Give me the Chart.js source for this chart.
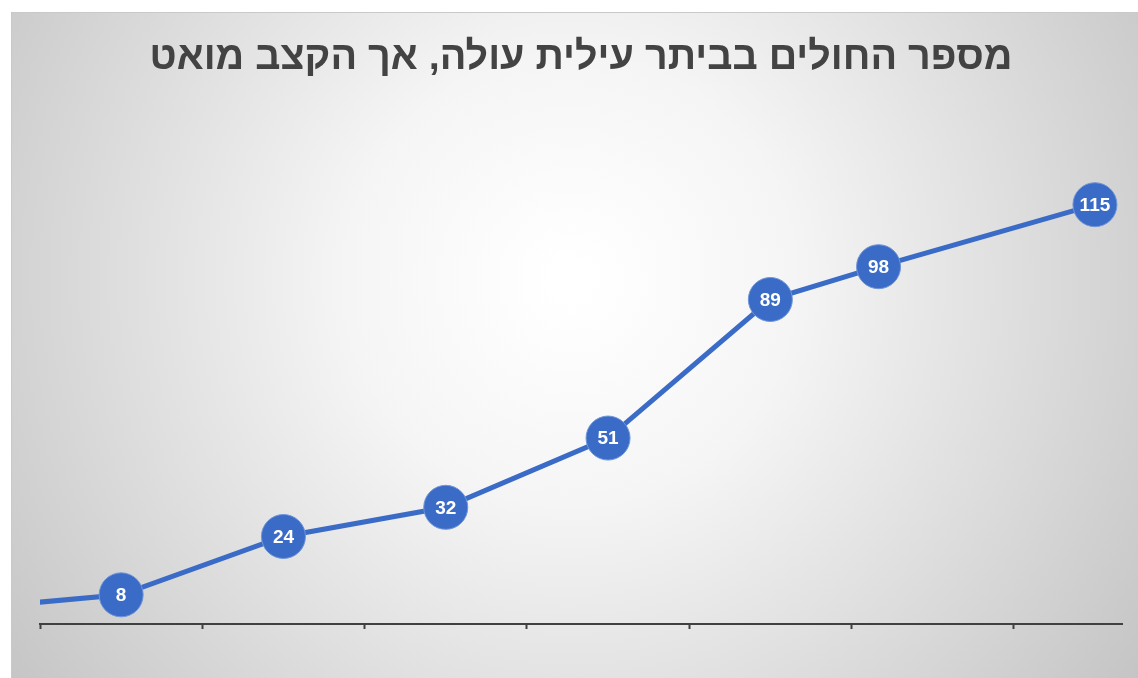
<!DOCTYPE html>
<html>
<head>
<meta charset="utf-8">
<script src="https://cdn.jsdelivr.net/npm/chart.js@4.4.1/dist/chart.umd.min.js"></script>
<style>
  html, body { margin: 0; padding: 0; background: #fff; }
  #wrap { width: 1138px; height: 678px; }
</style>
</head>
<body>
<div id="wrap"><canvas id="c" width="1138" height="678"></canvas></div>
<script>
// ימים מתחילת המדידה (ציר תאריכים), הנקודה הראשונה נחתכת משמאל
const days = [-3, 0, 3, 6, 9, 12, 14, 18];
const patients = [4, 8, 24, 32, 51, 89, 98, 115];
const tickDays = [-1.5, 1.5, 4.5, 7.5, 10.5, 13.5, 16.5];
const title = 'מספר החולים בביתר עילית עולה, אך הקצב מואט';

const blue = '#3a6bc7';

const background = {
    id: 'background',
    beforeDraw(chart) {
        const { ctx, width, height } = chart;
        ctx.save();
        ctx.fillStyle = '#fff';
        ctx.fillRect(0, 0, width, height);
        const g = ctx.createRadialGradient(570, 280, 20, 570, 280, 700);
        g.addColorStop(0, '#ffffff');
        g.addColorStop(0.3, '#f5f5f5');
        g.addColorStop(1, '#c4c4c4');
        ctx.fillStyle = g;
        ctx.fillRect(11, 12, width - 11, height - 12);
        ctx.strokeStyle = '#c9c9c9';
        ctx.lineWidth = 1;
        ctx.strokeRect(11.5, 12.5, width, height);
        ctx.restore();
    }
};

const pointLabels = {
    id: 'pointLabels',
    afterDatasetsDraw(chart) {
        const { ctx, chartArea } = chart;
        const meta = chart.getDatasetMeta(0);
        ctx.save();
        ctx.fillStyle = '#fff';
        ctx.font = 'bold 19px "Liberation Sans", "DejaVu Sans", sans-serif';
        ctx.textAlign = 'center';
        ctx.textBaseline = 'middle';
        meta.data.forEach((pt, i) => {
            if (pt.x < chartArea.left) return;
            ctx.fillText(String(patients[i]), pt.x, pt.y + 1);
        });
        ctx.restore();
    }
};

new Chart(document.getElementById('c'), {
    type: 'line',
    data: {
        datasets: [{
            data: days.map((d, i) => ({ x: d, y: patients[i] })),
            borderColor: blue,
            borderWidth: 5,
            backgroundColor: blue,
            pointRadius: 22,
            pointBorderWidth: 1,
            pointBorderColor: '#7095d8',
            pointBackgroundColor: blue,
            tension: 0,
            clip: { left: 0, top: 30, right: 30, bottom: 30 }
        }]
    },
    options: {
        responsive: false,
        animation: false,
        devicePixelRatio: 1,
        layout: { autoPadding: false, padding: { left: 40, right: 16, top: 0, bottom: 49 } },
        plugins: {
            legend: { display: false },
            tooltip: { enabled: false },
            title: {
                display: true,
                text: title,
                color: '#434343',
                font: { family: '"Liberation Sans", "DejaVu Sans", sans-serif', size: 39.5, weight: 'bold', lineHeight: 1.2 },
                padding: { top: 34, bottom: 68.6 }
            }
        },
        scales: {
            x: {
                type: 'linear',
                min: -1.5,
                max: 18.5,
                afterBuildTicks: axis => { axis.ticks = tickDays.map(v => ({ value: v })); },
                ticks: { display: false },
                grid: {
                    drawOnChartArea: false,
                    drawTicks: true,
                    tickLength: 5,
                    tickWidth: 2,
                    tickColor: '#404040'
                },
                border: { display: true, color: '#404040', width: 2 }
            },
            y: {
                display: false,
                min: 0,
                max: 130
            }
        }
    },
    plugins: [background, pointLabels]
});
</script>
</body>
</html>
